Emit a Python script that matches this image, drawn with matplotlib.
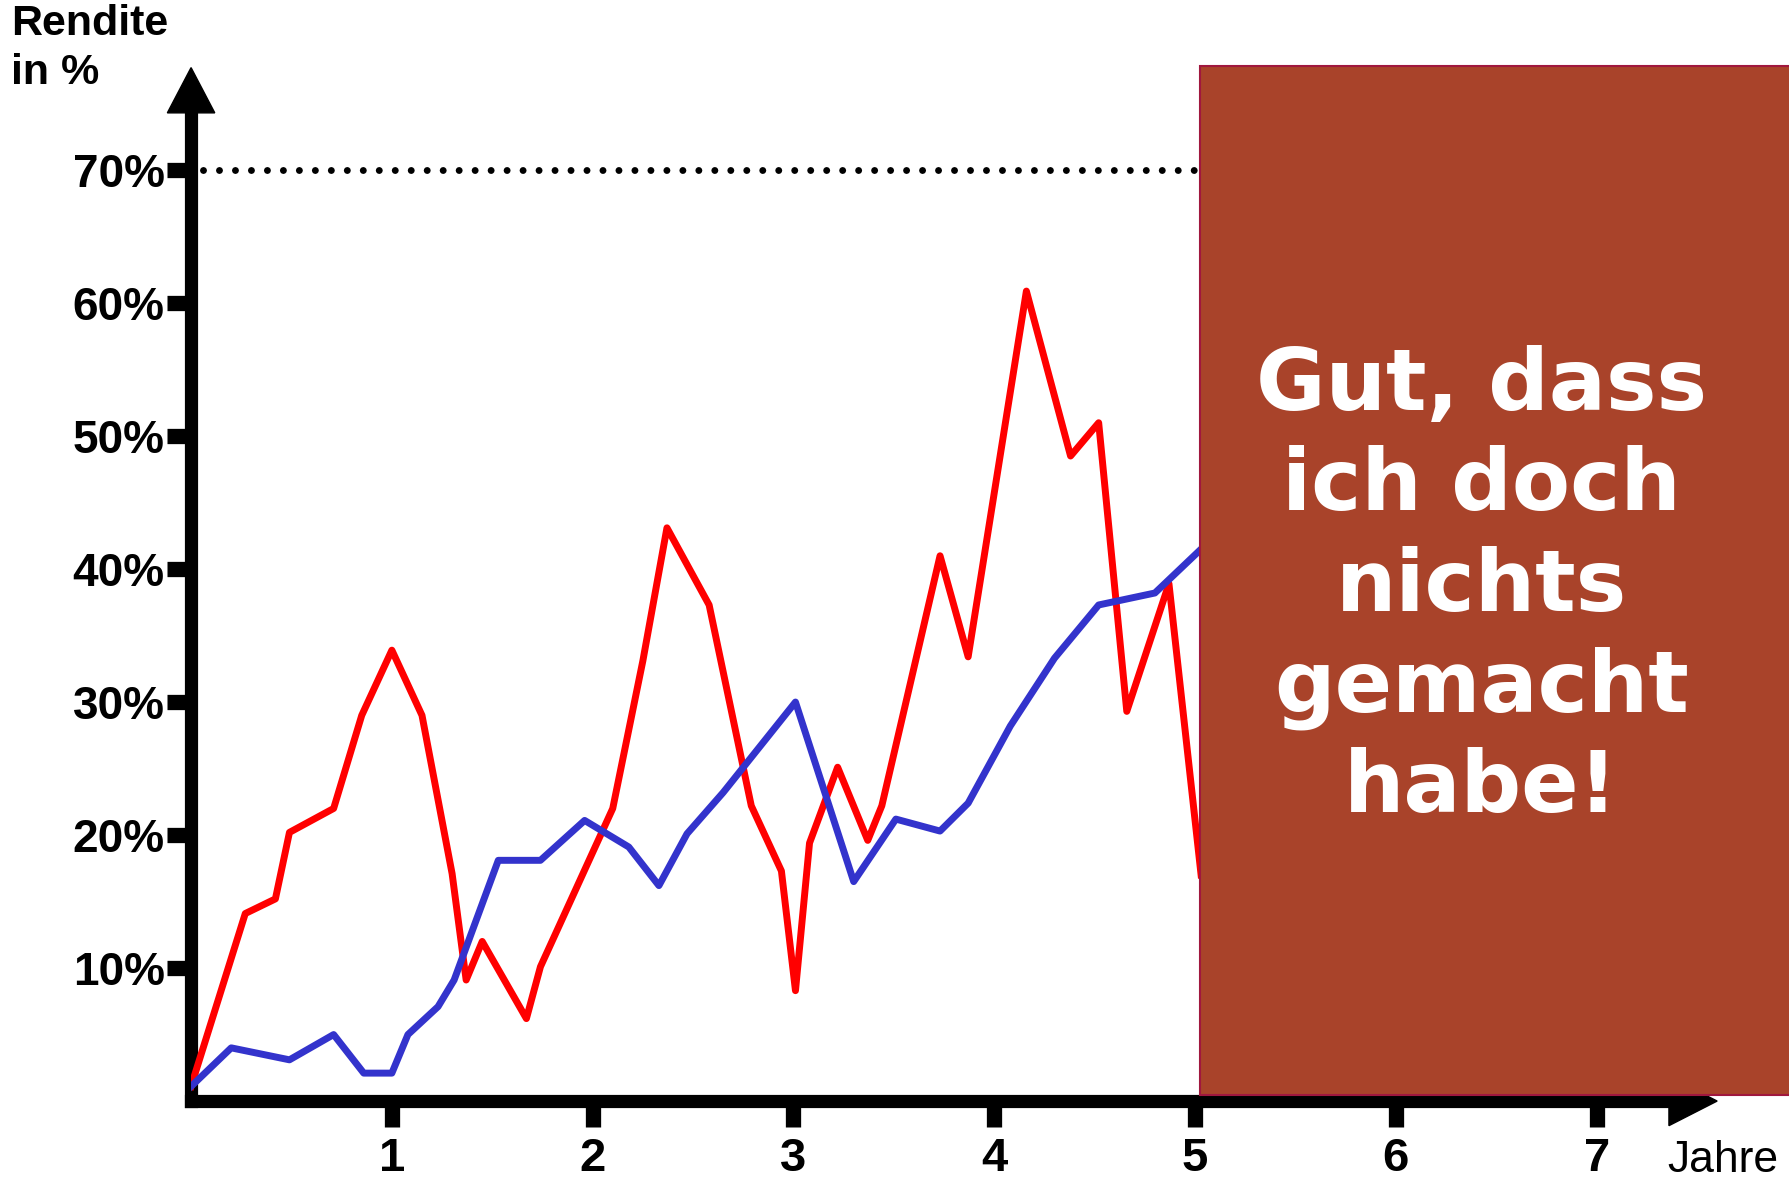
import matplotlib.pyplot as plt
from matplotlib.patches import Polygon, Rectangle

# Jahre / Rendite in %
x_rot = [0, 0.27, 0.42, 0.49, 0.71, 0.85, 1.0, 1.15, 1.30, 1.37, 1.45, 1.67, 1.74, 2.10, 2.25,
         2.37, 2.58, 2.79, 2.94, 3.01, 3.08, 3.22, 3.37, 3.44, 3.73, 3.87, 4.16, 4.38, 4.52,
         4.66, 4.87, 5.03]
y_rot = [1.1, 14.1, 15.2, 20.2, 22.0, 29.0, 33.9, 29.0, 17.1, 9.1, 12.0, 6.2, 10.1, 22.0, 33.1,
         43.1, 37.3, 22.2, 17.3, 8.3, 19.4, 25.1, 19.6, 22.2, 41.0, 33.4, 60.9, 48.5, 51.0,
         29.3, 38.9, 17.0]

x_blau = [0, 0.20, 0.49, 0.71, 0.86, 1.0, 1.08, 1.23, 1.31, 1.53, 1.74, 1.96, 2.18, 2.33, 2.47,
          2.65, 3.01, 3.30, 3.51, 3.73, 3.87, 4.08, 4.30, 4.52, 4.80, 5.03]
y_blau = [1.1, 4.0, 3.1, 5.0, 2.1, 2.1, 5.0, 7.1, 9.1, 18.1, 18.1, 21.1, 19.1, 16.2, 20.1,
          23.2, 30.0, 16.5, 21.2, 20.3, 22.4, 28.2, 33.3, 37.3, 38.2, 41.5]

x_ticks = [1, 2, 3, 4, 5, 6, 7]
y_ticks = [10, 20, 30, 40, 50, 60, 70]
y_labels = ['10%', '20%', '30%', '40%', '50%', '60%', '70%']
ziel = 70

plt.rcParams['font.family'] = ['Liberation Sans', 'DejaVu Sans']

fig = plt.figure(figsize=(17.89, 11.80), dpi=100)
ax = fig.add_axes([0.1068, 0.0669, 0.8867, 0.9017])
ax.set_xlim(0, 7.9)
ax.set_ylim(0, 80)

# Achsen
for s in ['top', 'right']:
    ax.spines[s].set_visible(False)
ax.spines['left'].set_linewidth(9.5)
ax.spines['bottom'].set_linewidth(9.5)
ax.spines['left'].set_capstyle('projecting')
ax.spines['bottom'].set_capstyle('projecting')
ax.spines['left'].set_bounds(0, 74.6)
ax.spines['bottom'].set_bounds(0, 7.38)

# Pfeile
ax.add_patch(Polygon([[-0.118, 74.3], [0.118, 74.3], [0, 77.7]], closed=True,
                     color='black', clip_on=False, zorder=5))
ax.add_patch(Polygon([[7.36, -1.85], [7.36, 1.85], [7.6, 0]], closed=True,
                     color='black', clip_on=False, zorder=1))

ax.set_xticks(x_ticks)
ax.set_xticklabels([str(t) for t in x_ticks], fontsize=34, fontweight='bold')
ax.set_yticks(y_ticks)
ax.set_yticklabels(y_labels, fontsize=33, fontweight='bold')
ax.tick_params(axis='x', direction='out', length=19, width=11, pad=7)
ax.tick_params(axis='y', direction='out', length=17, width=11, pad=2)

ax.plot([0.06, 5.0], [ziel, ziel], color='black', lw=5,
        linestyle=(0, (0.001, 2.3)), dash_capstyle='round', zorder=2)

ax.plot(x_rot, y_rot, color='#ff0000', lw=5, zorder=3)
ax.plot(x_blau, y_blau, color='#3333cc', lw=5, zorder=4)

fig.text(0.006, 0.997, 'Rendite\nin %', fontsize=31, fontweight='bold',
         ha='left', va='top', linespacing=1.3)
fig.text(0.932, 0.007, 'Jahre', fontsize=32, ha='left', va='baseline')

# Kasten
box = Rectangle((0.6705, 0.072), 0.34, 0.872, transform=fig.transFigure,
                facecolor='#a9432a', edgecolor='#a0173e', lw=1.5, zorder=10)
fig.patches.append(box)
fig.text(0.828, 0.502, 'Gut, dass\nich doch\nnichts\ngemacht\nhabe!',
         family='DejaVu Sans', fontsize=61, fontweight='bold', color='white',
         ha='center', va='center', linespacing=1.27, zorder=11)

fig.savefig('out.png', dpi=100)
